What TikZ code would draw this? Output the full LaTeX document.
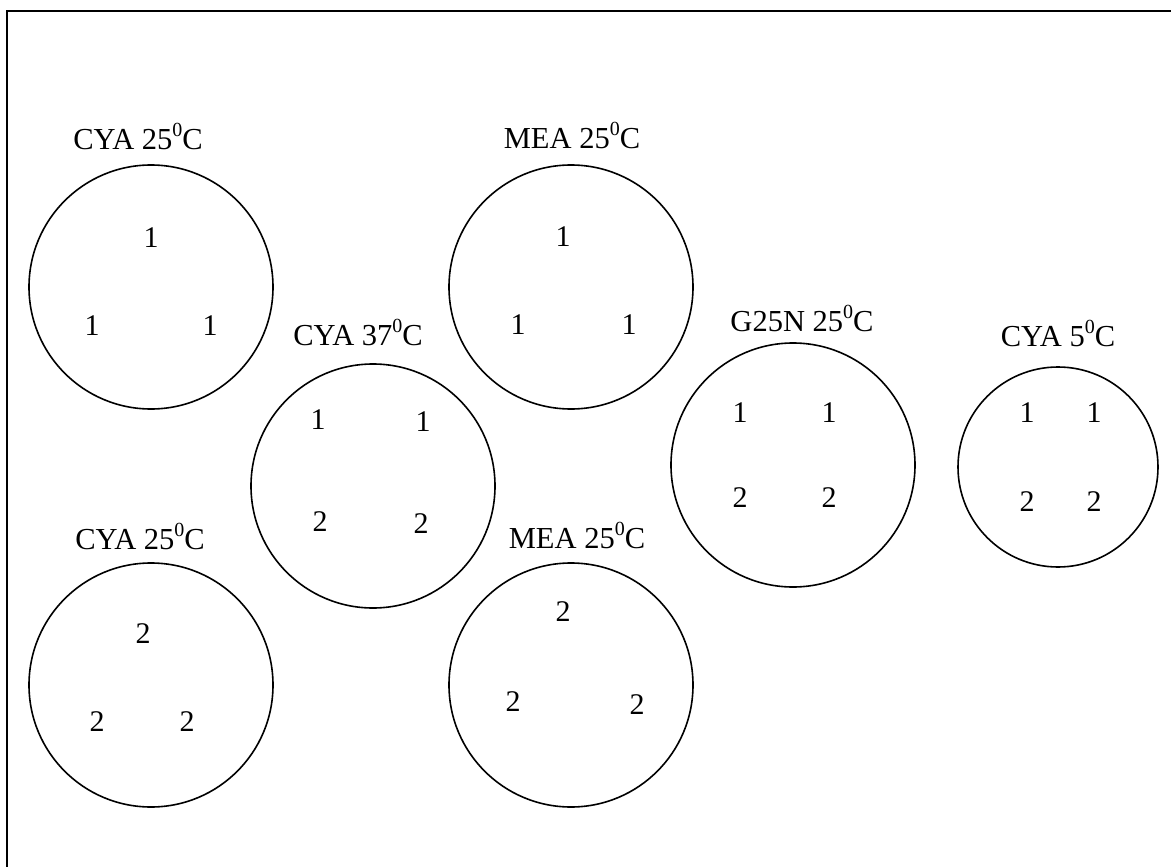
\documentclass[tikz,border=0pt]{standalone}
\usepackage{fontspec}
\setmainfont{Liberation Serif}
\newcommand{\supzero}{\raisebox{0.42em}{\fontsize{20}{22}\selectfont 0}}
\begin{document}
\begin{tikzpicture}[x=1pt,y=-1pt,
  plate/.style={draw=black,line width=1.6pt,circle,inner sep=0pt},
  lbl/.style={anchor=base,inner sep=0pt,font=\fontsize{30.5}{34}\selectfont},
  num/.style={anchor=center,inner sep=0pt,font=\fontsize{30}{34}\selectfont}]
\useasboundingbox (0,0) rectangle (1171,867);
\clip (0,0) rectangle (1171,867);
\draw[line width=1.6pt] (7,11) rectangle (1200,900);
% plates
\node[plate,minimum size=244pt] (p1) at (151,287) {};
\node[plate,minimum size=244pt] (p2) at (571,287) {};
\node[plate,minimum size=244pt] (p3) at (373,486) {};
\node[plate,minimum size=244pt] (p4) at (793,465) {};
\node[plate,minimum size=200pt] (p5) at (1058,467) {};
\node[plate,minimum size=244pt] (p6) at (151,685) {};
\node[plate,minimum size=244pt] (p7) at (571,685) {};
% labels
\node[lbl] (l1) at (138,149) {CYA 25\supzero C};
\node[lbl] (l2) at (572,148) {MEA 25\supzero C};
\node[lbl] (l3) at (358,345) {CYA 37\supzero C};
\node[lbl] (l4) at (802,331) {G25N 25\supzero C};
\node[lbl] (l5) at (1058,346) {CYA 5\supzero C};
\node[lbl] (l6) at (140,549) {CYA 25\supzero C};
\node[lbl] (l7) at (577,548) {MEA 25\supzero C};
% numbers
\node[num] (n11) at (151,238) {1};
\node[num] (n12) at (92,326) {1};
\node[num] (n13) at (210,326) {1};
\node[num] (n21) at (563,237) {1};
\node[num] (n22) at (518,325) {1};
\node[num] (n23) at (629,325) {1};
\node[num] (n31) at (318,420) {1};
\node[num] (n32) at (423,422) {1};
\node[num] (n33) at (320,522) {2};
\node[num] (n34) at (421,524) {2};
\node[num] (n41) at (740,413) {1};
\node[num] (n42) at (829,413) {1};
\node[num] (n43) at (740,498) {2};
\node[num] (n44) at (829,498) {2};
\node[num] (n51) at (1027,413) {1};
\node[num] (n52) at (1094,413) {1};
\node[num] (n53) at (1027,502) {2};
\node[num] (n54) at (1094,502) {2};
\node[num] (n61) at (143,634) {2};
\node[num] (n62) at (97,722) {2};
\node[num] (n63) at (187,722) {2};
\node[num] (n71) at (563,612) {2};
\node[num] (n72) at (513,702) {2};
\node[num] (n73) at (637,705) {2};
\end{tikzpicture}
\end{document}
